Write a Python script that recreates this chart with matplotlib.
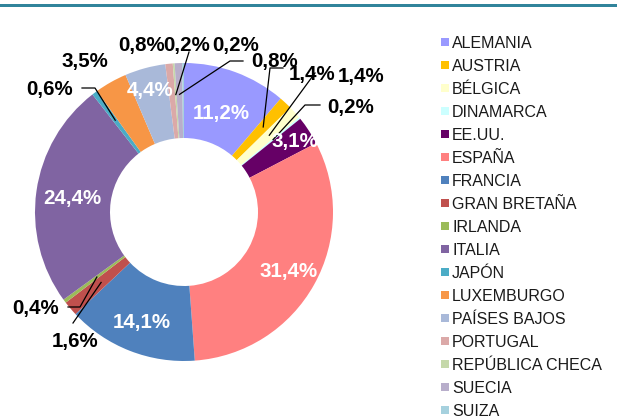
import numpy as np
import matplotlib
matplotlib.use("Agg")
import matplotlib.pyplot as plt
from matplotlib.patches import Rectangle

countries = ["ALEMANIA", "AUSTRIA", "BÉLGICA", "DINAMARCA", "EE.UU.", "ESPAÑA",
             "FRANCIA", "GRAN BRETAÑA", "IRLANDA", "ITALIA", "JAPÓN", "LUXEMBURGO",
             "PAÍSES BAJOS", "PORTUGAL", "REPÚBLICA CHECA", "SUECIA", "SUIZA"]
shares = [11.2, 1.4, 1.4, 0.2, 3.1, 31.4, 14.1, 1.6, 0.4, 24.4, 0.6, 3.5,
          4.4, 0.8, 0.2, 0.8, 0.2]
colors = ["#9999FF", "#FFC000", "#FFFFCC", "#CCFFFF", "#660066", "#FF8080",
          "#4F81BD", "#C0504D", "#9BBB59", "#8064A2", "#4BACC6", "#F79646",
          "#A9B9D9", "#DBA9A8", "#C5D8AA", "#B8AECB", "#A6D1DE"]

# label placement (pixel coords, y down)
inside_r = {"ALEMANIA": 0.72, "EE.UU.": 0.89, "ESPAÑA": 0.80, "FRANCIA": 0.78,
            "ITALIA": 0.76, "PAÍSES BAJOS": 0.86}
outside_xy = {"PORTUGAL": (142, 44), "REPÚBLICA CHECA": (187, 44), "SUIZA": (236, 44),
              "SUECIA": (275, 60), "AUSTRIA": (312, 73), "BÉLGICA": (361, 75),
              "DINAMARCA": (351, 106), "GRAN BRETAÑA": (75, 340), "IRLANDA": (36, 307),
              "JAPÓN": (50, 88), "LUXEMBURGO": (85, 60)}
leaders = {"JAPÓN": ([(82, 88), (95, 88)], 0.77),
           "IRLANDA": ([(68, 307), (80, 307)], 0.73),
           "GRAN BRETAÑA": ([(73, 323)], 0.73),
           "REPÚBLICA CHECA": ([(189, 52)], 0.79),
           "SUECIA": ([(243, 61), (230, 61)], 0.79),
           "AUSTRIA": ([(283, 68), (270, 68)], 0.78),
           "BÉLGICA": ([(315, 73)], 0.77),
           "DINAMARCA": ([(320, 105), (305, 105)], 0.77)}

W, H = 617, 416
cx, cy, R = 184, 212, 149
FONT = "Liberation Sans"
LBL_FS = 14.8
LEG_FS = 11.5

fig = plt.figure(figsize=(W / 100, H / 100), dpi=100)
ax = fig.add_axes([0, 0, 1, 1])

wedges, _ = ax.pie(shares, colors=colors, startangle=90, counterclock=False,
                   radius=R, center=(cx, H - cy),
                   wedgeprops=dict(width=75, linewidth=0))
ax.set_xlim(0, W)
ax.set_ylim(0, H)
ax.set_aspect("equal")
ax.axis("off")

# teal rule at the top
ax.axhspan(H - 7, H - 4, color="#31849B", lw=0)


def fmt(v):
    return f"{v:.1f}".replace(".", ",") + "%"


def cap(fs):
    # half cap height in pixels, to centre caps on a point
    return fs * 100 / 72 * 0.716 / 2


for w, name, v in zip(wedges, countries, shares):
    mid = np.radians((w.theta1 + w.theta2) / 2)
    if name in inside_r:
        r = inside_r[name] * R
        x, y = cx + r * np.cos(mid), (H - cy) + r * np.sin(mid)
        ax.text(x, y - cap(LBL_FS), fmt(v), color="white", fontsize=LBL_FS,
                fontweight="bold", family=FONT, ha="center", va="baseline")
    elif name in outside_xy:
        lx, ly = outside_xy[name]
        ax.text(lx, H - ly - cap(LBL_FS), fmt(v), color="black", fontsize=LBL_FS,
                fontweight="bold", family=FONT, ha="center", va="baseline")
    if name in leaders:
        pts, rf = leaders[name]
        ex, ey = cx + rf * R * np.cos(mid), (H - cy) + rf * R * np.sin(mid)
        xs = [p[0] for p in pts] + [ex]
        ys = [H - p[1] for p in pts] + [ey]
        ax.plot(xs, ys, color="black", lw=0.9)

# legend, one row every 23 px
for i, (name, c) in enumerate(zip(countries, colors)):
    yc = 42 + 23 * i
    ax.add_patch(Rectangle((441, H - yc - 4), 8, 8, facecolor=c, lw=0))
    ax.text(452, H - yc - cap(LEG_FS), name, fontsize=LEG_FS, family=FONT,
            color="#1a1a1a", ha="left", va="baseline")

fig.savefig("out.png", dpi=100)
